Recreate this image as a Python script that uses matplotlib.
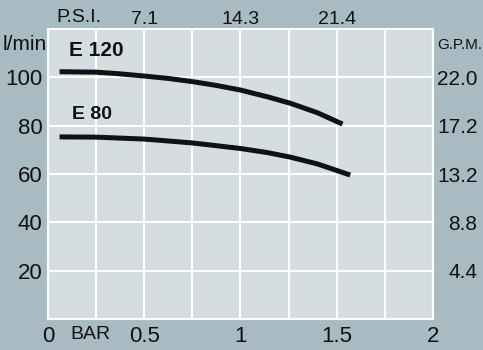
import numpy as np
import matplotlib.pyplot as plt

font = 'Liberation Sans'

# curves (bar, l/min)
e120_bar = [0.06, 0.25, 0.36, 0.5, 0.625, 0.75, 0.875, 1.0, 1.14, 1.26, 1.4, 1.53]
e120_lpm = [102.4, 102.2, 101.6, 100.6, 99.6, 98.3, 96.7, 94.8, 92.0, 89.3, 85.4, 80.7]
e80_bar = [0.06, 0.25, 0.5, 0.75, 1.0, 1.14, 1.26, 1.4, 1.57]
e80_lpm = [75.4, 75.3, 74.5, 72.9, 70.6, 68.9, 67.0, 64.2, 59.6]

bar_ticks = [0, 0.5, 1, 1.5, 2]
bar_labels = ['0', '0.5', '1', '1.5', '2']
psi_ticks = [0.5, 1, 1.5]
psi_labels = ['7.1', '14.3', '21.4']
lpm_ticks = [20, 40, 60, 80, 100]
gpm_labels = ['4.4', '8.8', '13.2', '17.2', '22.0']

bg = '#a8bbc3'
panel = '#d5dde1'
ink = '#111111'

fig = plt.figure(figsize=(4.83, 3.5), dpi=100, facecolor=bg)
ax = fig.add_axes([0.0994, 0.0886, 0.797, 0.828], facecolor=panel)
ax.set_xlim(0, 2)
ax.set_ylim(0, 120)

ax.set_xticks(bar_ticks)
ax.set_xticklabels(bar_labels, fontsize=16, family=font, color=ink)
ax.set_xticks(np.arange(0, 2.01, 0.25), minor=True)
ax.set_yticks(lpm_ticks)
ax.set_yticklabels([str(v) for v in lpm_ticks], fontsize=16, family=font, color=ink)
ax.tick_params(axis='both', which='both', length=0)
ax.tick_params(axis='x', pad=5)
ax.tick_params(axis='y', pad=4)
ax.grid(True, which='both', color='white', linewidth=1.5)
ax.set_axisbelow(True)
for s in ax.spines.values():
    s.set_color('white')
    s.set_linewidth(1.5)

top = ax.secondary_xaxis('top')
top.set_xticks(psi_ticks)
top.set_xticklabels(psi_labels, fontsize=14, family=font, color=ink)
top.tick_params(length=0, pad=1)
top.spines['top'].set_visible(False)

right = ax.secondary_yaxis('right')
right.set_yticks(lpm_ticks)
right.set_yticklabels(gpm_labels, fontsize=15, family=font, color=ink, ha='right')
right.tick_params(length=0, pad=32)
right.spines['right'].set_visible(False)

for xs, ys in [(e120_bar, e120_lpm), (e80_bar, e80_lpm)]:
    ax.plot(xs, ys, color=ink, linewidth=3.6, solid_capstyle='butt', solid_joinstyle='round')

ax.text(0.11, 111.0, 'E 120', fontsize=15, fontweight='bold', family=font,
        va='center', ha='left', color=ink)
ax.text(0.125, 84.5, 'E 80', fontsize=14, fontweight='bold', family=font,
        va='center', ha='left', color=ink)

ax.text(0.16, 121.2, 'P.S.I.', fontsize=14, family=font, ha='center', va='bottom',
        color=ink, clip_on=False)
ax.text(0.218, -2.8, 'BAR', fontsize=14, family=font, ha='center', va='top',
        color=ink, clip_on=False)
fig.text(47 / 483, 1 - 45 / 350, 'l/min', fontsize=15, family=font, ha='right', va='center',
         color=ink)
fig.text(482 / 483, 1 - 45 / 350, 'G.P.M.', fontsize=11, family=font, ha='right', va='center',
         color=ink)

fig.savefig('out.png', dpi=100, facecolor=bg)
